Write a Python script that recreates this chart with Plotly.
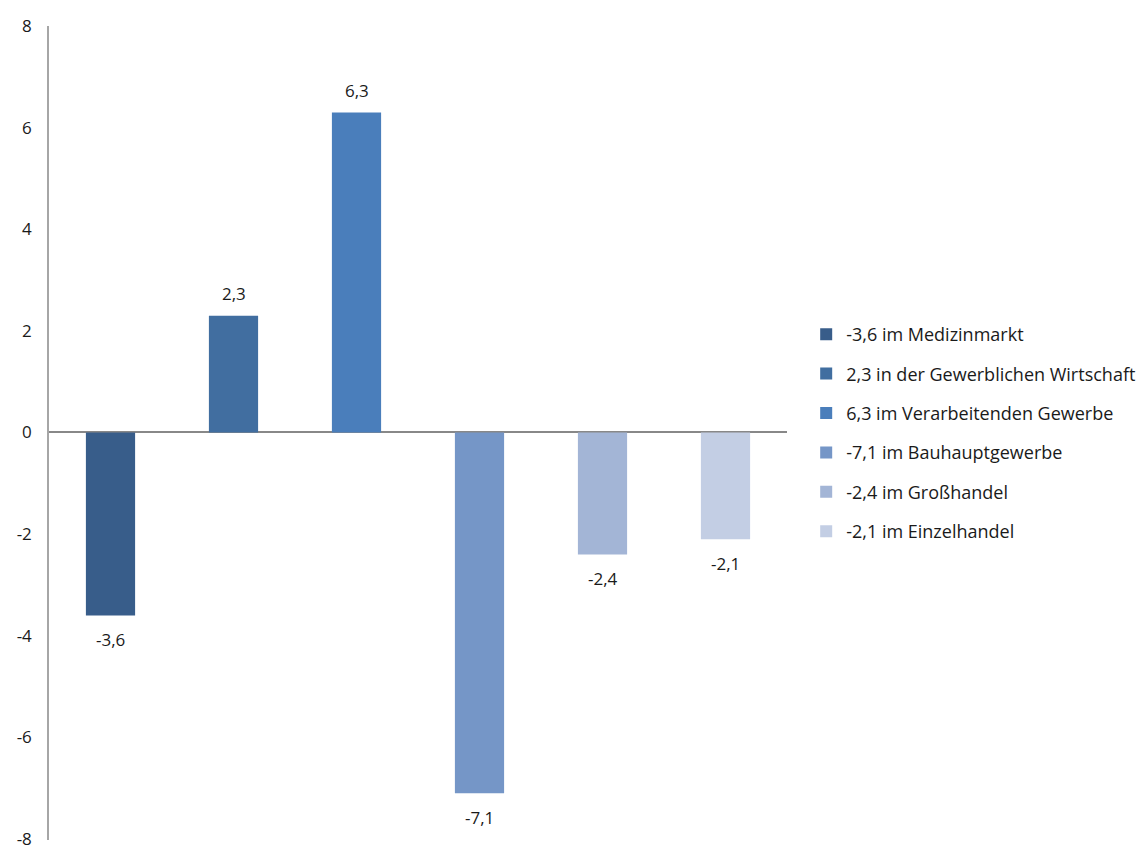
import plotly.graph_objects as go

categories = ["Medizinmarkt", "Gewerbliche Wirtschaft", "Verarbeitendes Gewerbe",
              "Bauhauptgewerbe", "Großhandel", "Einzelhandel"]
values = [-3.6, 2.3, 6.3, -7.1, -2.4, -2.1]
legend_names = ["-3,6 im Medizinmarkt", "2,3 in der Gewerblichen Wirtschaft",
                "6,3 im Verarbeitenden Gewerbe", "-7,1 im Bauhauptgewerbe",
                "-2,4 im Großhandel", "-2,1 im Einzelhandel"]
labels = ["-3,6", "2,3", "6,3", "-7,1", "-2,4", "-2,1"]
colors = ["#385D8A", "#416EA0", "#4A7EBB", "#7596C7", "#A3B5D6", "#C3CEE4"]
y_ticks = [-8, -6, -4, -2, 0, 2, 4, 6, 8]

FONT = "Open Sans, Liberation Sans, sans-serif"

fig = go.Figure()
for i in range(len(categories)):
    fig.add_trace(go.Bar(
        x=[categories[i]], y=[values[i]], name=legend_names[i],
        marker=dict(color=colors[i], line=dict(width=0)),
        width=0.4, legendgroup=f"g{i}", offset=-0.2,
    ))
    fig.add_annotation(
        x=categories[i], y=values[i], text=labels[i], showarrow=False,
        yshift=22 if values[i] >= 0 else -24,
        font=dict(size=17, color="#1a1a1a", family=FONT),
    )

fig.update_layout(
    width=1145, height=853,
    margin=dict(l=49, r=358, t=26, b=13, autoexpand=False),
    paper_bgcolor="white", plot_bgcolor="white",
    barmode="overlay",
    showlegend=True,
    legend=dict(x=1.026, y=0.5, xanchor="left", yanchor="middle",
                font=dict(size=18, color="#1a1a1a", family=FONT),
                tracegroupgap=13, traceorder="grouped", itemwidth=30),
    xaxis=dict(categoryorder="array", categoryarray=categories,
               showticklabels=False, showgrid=False, zeroline=False,
               showline=False, ticks="", range=[-0.5, 5.5]),
    yaxis=dict(range=[-8.02, 8], tickvals=y_ticks,
               ticktext=[str(v) for v in y_ticks],
               showgrid=False, zeroline=True, zerolinecolor="#888888",
               zerolinewidth=2, showline=True, linecolor="#A6A6A6",
               linewidth=1.5, ticks="", ticklen=0, ticklabelstandoff=12,
               ticklabeloverflow="allow",
               tickfont=dict(size=17, color="#1a1a1a", family=FONT)),
    font=dict(family=FONT),
)

fig.write_html("out.html")
